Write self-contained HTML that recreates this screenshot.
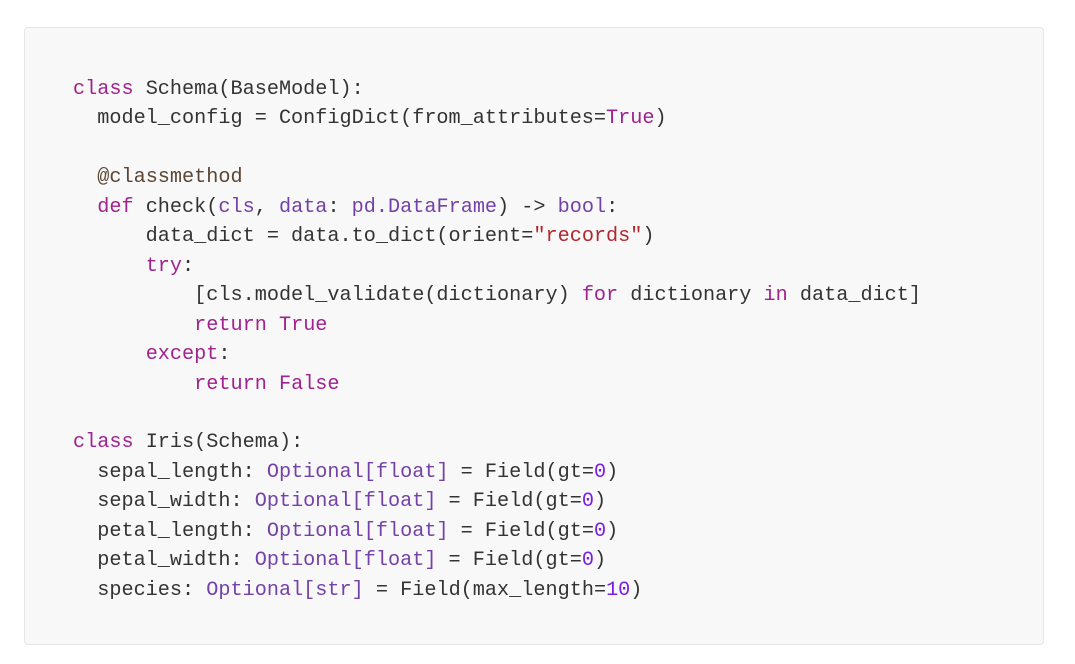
<!DOCTYPE html>
<html><head><meta charset="utf-8"><style>
html,body{margin:0;padding:0;background:#fff;width:1075px;height:664px;overflow:hidden}
.box{position:absolute;left:24px;top:27px;width:1020px;height:618px;background:#f8f8f8;border:1px solid #e6e6e6;border-radius:4px;box-sizing:border-box}
pre{position:absolute;left:73px;top:75px;margin:0;font-family:"Liberation Mono",monospace;font-size:20.2px;line-height:29.45px;color:#333}
.k{color:#a0228f}.t{color:#7441a8}.n{color:#7a1fe0}.s{color:#b0282e}.d{color:#5a4634}
</style></head><body><div class="box"></div><pre><span class="k">class</span> Schema(BaseModel):
  model_config = ConfigDict(from_attributes=<span class="k">True</span>)

  <span class="d">@classmethod</span>
  <span class="k">def</span> check(<span class="t">cls</span>, <span class="t">data</span>: <span class="t">pd.DataFrame</span>) -&gt; <span class="t">bool</span>:
      data_dict = data.to_dict(orient=<span class="s">"records"</span>)
      <span class="k">try</span>:
          [cls.model_validate(dictionary) <span class="k">for</span> dictionary <span class="k">in</span> data_dict]
          <span class="k">return</span> <span class="k">True</span>
      <span class="k">except</span>:
          <span class="k">return</span> <span class="k">False</span>

<span class="k">class</span> Iris(Schema):
  sepal_length: <span class="t">Optional[float]</span> = Field(gt=<span class="n">0</span>)
  sepal_width: <span class="t">Optional[float]</span> = Field(gt=<span class="n">0</span>)
  petal_length: <span class="t">Optional[float]</span> = Field(gt=<span class="n">0</span>)
  petal_width: <span class="t">Optional[float]</span> = Field(gt=<span class="n">0</span>)
  species: <span class="t">Optional[str]</span> = Field(max_length=<span class="n">10</span>)</pre></body></html>
